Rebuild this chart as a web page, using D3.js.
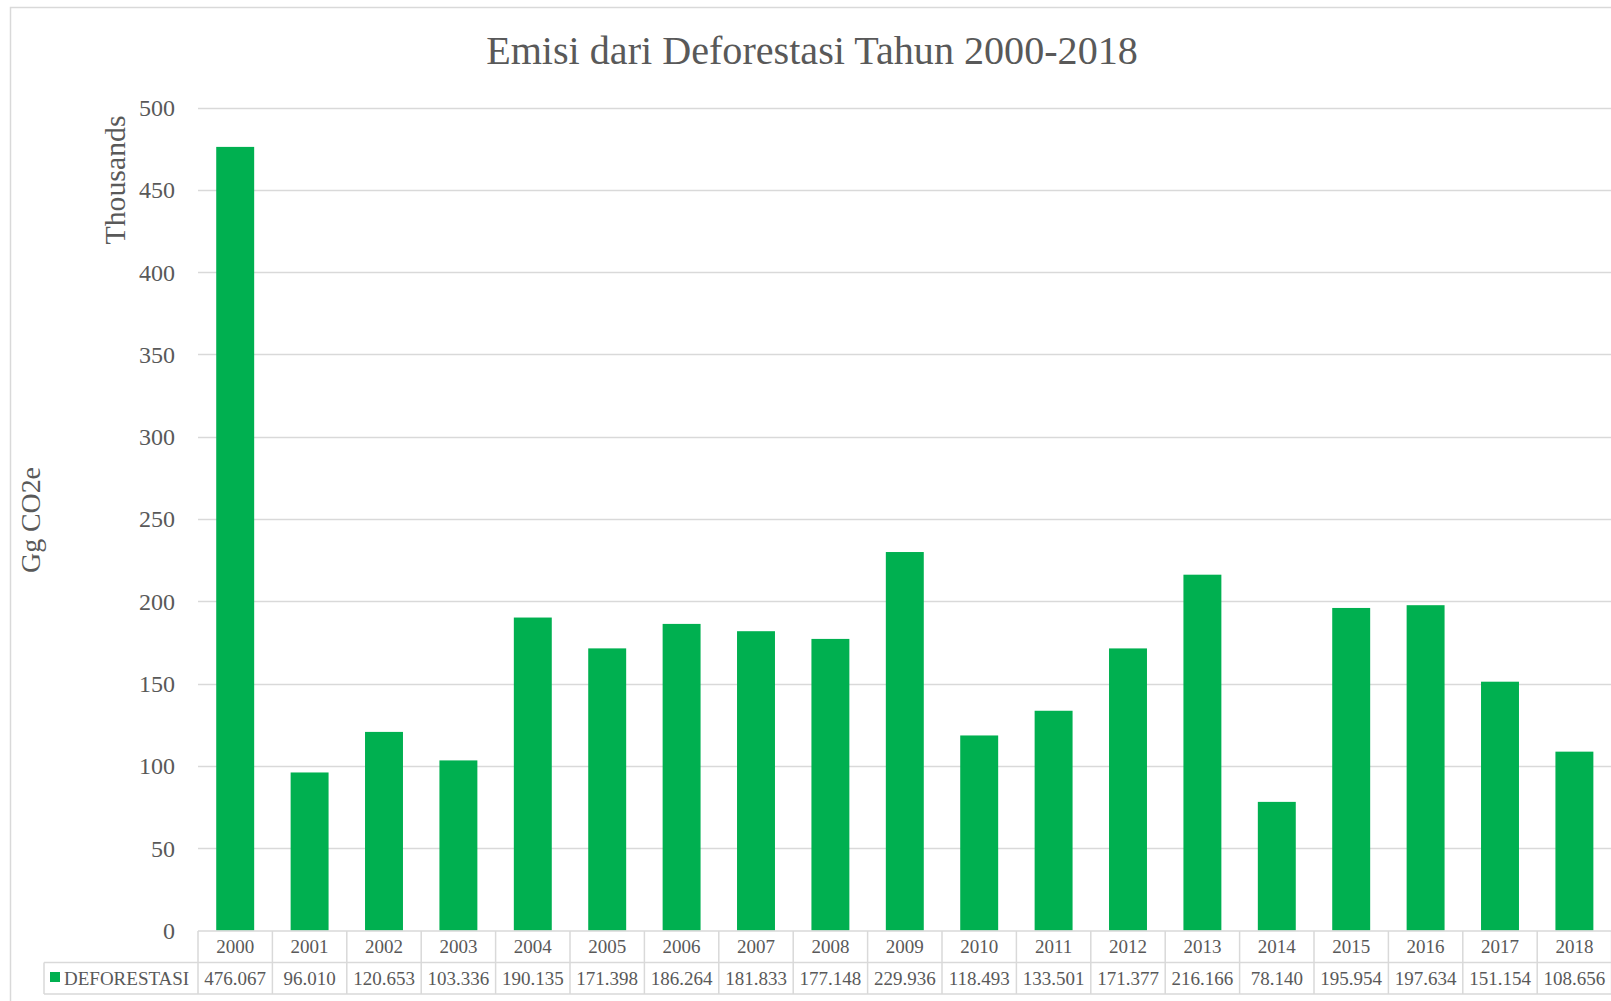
<!DOCTYPE html>
<html><head><meta charset="utf-8">
<script src="https://cdn.jsdelivr.net/npm/d3@7"></script>
<style>html,body{margin:0;padding:0;background:#fff;overflow:hidden}svg{display:block}</style>
</head><body>
<svg id="chart" width="1611" height="1001"></svg>
<script>
const categories = ["2000","2001","2002","2003","2004","2005","2006","2007","2008","2009","2010","2011","2012","2013","2014","2015","2016","2017","2018"];
const values = [476.067,96.010,120.653,103.336,190.135,171.398,186.264,181.833,177.148,229.936,118.493,133.501,171.377,216.166,78.140,195.954,197.634,151.154,108.656];
const valueLabels = ["476.067","96.010","120.653","103.336","190.135","171.398","186.264","181.833","177.148","229.936","118.493","133.501","171.377","216.166","78.140","195.954","197.634","151.154","108.656"];
const yTicks = [0,50,100,150,200,250,300,350,400,450,500];
const seriesName = "DEFORESTASI";
const title = "Emisi dari Deforestasi Tahun 2000-2018";

const FONT = "'Liberation Serif', 'Times New Roman', serif";
const TXT = "#595959", GRID = "#d9d9d9", GREEN = "#00B050";
const svg = d3.select("#chart");

const pLeft = 198, bandW = 74.4;
const pRight = pLeft + bandW * categories.length;
const pTop = 107.5, pBottom = 930.5;

const x = d3.scaleBand().domain(categories).range([pLeft, pRight]).paddingInner(0.49).paddingOuter(0.245);
const xCol = d3.scaleBand().domain(categories).range([pLeft, pRight]);
const y = d3.scaleLinear().domain([0, 500]).range([pBottom, pTop]);

// frame
svg.append("rect").attr("x", 10.5).attr("y", 7.5).attr("width", 1700).attr("height", 1100)
  .attr("fill", "none").attr("stroke", GRID).attr("stroke-width", 1.5);

// gridlines
svg.append("g").selectAll("line").data(yTicks.filter(d => d > 0)).join("line")
  .attr("x1", pLeft).attr("x2", pRight)
  .attr("y1", d => Math.round(y(d)) + 0.5).attr("y2", d => Math.round(y(d)) + 0.5)
  .attr("stroke", GRID).attr("stroke-width", 1.5);

// y axis labels
const yAxis = d3.axisLeft(y).tickValues(yTicks).tickSize(0).tickPadding(0).tickFormat(d3.format("d"));
const gy = svg.append("g").attr("transform", `translate(175,0)`).call(yAxis);
gy.select(".domain").remove();
gy.selectAll("text").attr("font-family", FONT).attr("font-size", 24).attr("fill", TXT).attr("dy", "0.33em");

// bars
svg.append("g").selectAll("rect").data(values).join("rect")
  .attr("x", (d, i) => x(categories[i])).attr("width", x.bandwidth())
  .attr("y", d => y(d)).attr("height", d => y(0) - y(d))
  .attr("fill", GREEN);

// data table
const r1 = 931, r2 = 962.5, r3 = 994;
const tg = svg.append("g").attr("stroke", GRID).attr("stroke-width", 1.5);
tg.append("line").attr("x1", pLeft).attr("x2", pRight).attr("y1", r1).attr("y2", r1);
tg.append("line").attr("x1", 44).attr("x2", pRight).attr("y1", r2).attr("y2", r2);
tg.append("line").attr("x1", 44).attr("x2", pRight).attr("y1", r3).attr("y2", r3);
tg.append("line").attr("x1", 44).attr("x2", 44).attr("y1", r2).attr("y2", r3);
tg.selectAll(".v").data(categories.concat(["end"])).join("line").attr("class", "v")
  .attr("x1", (d, i) => pLeft + i * bandW).attr("x2", (d, i) => pLeft + i * bandW)
  .attr("y1", r1).attr("y2", r3);

svg.append("g").selectAll("text").data(categories).join("text")
  .attr("x", d => xCol(d) + xCol.bandwidth() / 2).attr("y", (r1 + r2) / 2).attr("dy", "0.35em")
  .attr("text-anchor", "middle").attr("font-family", FONT).attr("font-size", 19).attr("fill", TXT)
  .text(d => d);
svg.append("g").selectAll("text").data(valueLabels).join("text")
  .attr("x", (d, i) => xCol(categories[i]) + xCol.bandwidth() / 2).attr("y", (r2 + r3) / 2).attr("dy", "0.35em")
  .attr("text-anchor", "middle").attr("font-family", FONT).attr("font-size", 19).attr("fill", TXT)
  .text(d => d);
svg.append("rect").attr("x", 50).attr("y", 972).attr("width", 10).attr("height", 10).attr("fill", GREEN);
svg.append("text").attr("x", 64).attr("y", (r2 + r3) / 2).attr("dy", "0.35em")
  .attr("font-family", FONT).attr("font-size", 19).attr("fill", TXT).text(seriesName);

// title
function fit(sel, target, base) {
  const w = sel.node().getComputedTextLength();
  sel.attr("font-size", base * target / w);
}
const t = svg.append("text").attr("x", 812).attr("y", 64).attr("text-anchor", "middle")
  .attr("font-family", FONT).attr("font-size", 36).attr("fill", TXT).text(title);
fit(t, 652, 36);

const th = svg.append("text").attr("transform", "translate(125,180) rotate(-90)").attr("text-anchor", "middle")
  .attr("font-family", FONT).attr("font-size", 26).attr("fill", TXT).text("Thousands");
fit(th, 129, 26);
const gc = svg.append("text").attr("transform", "translate(40,520) rotate(-90)").attr("text-anchor", "middle")
  .attr("font-family", FONT).attr("font-size", 26).attr("fill", TXT).text("Gg CO2e");
fit(gc, 106, 26);
</script>
</body></html>
